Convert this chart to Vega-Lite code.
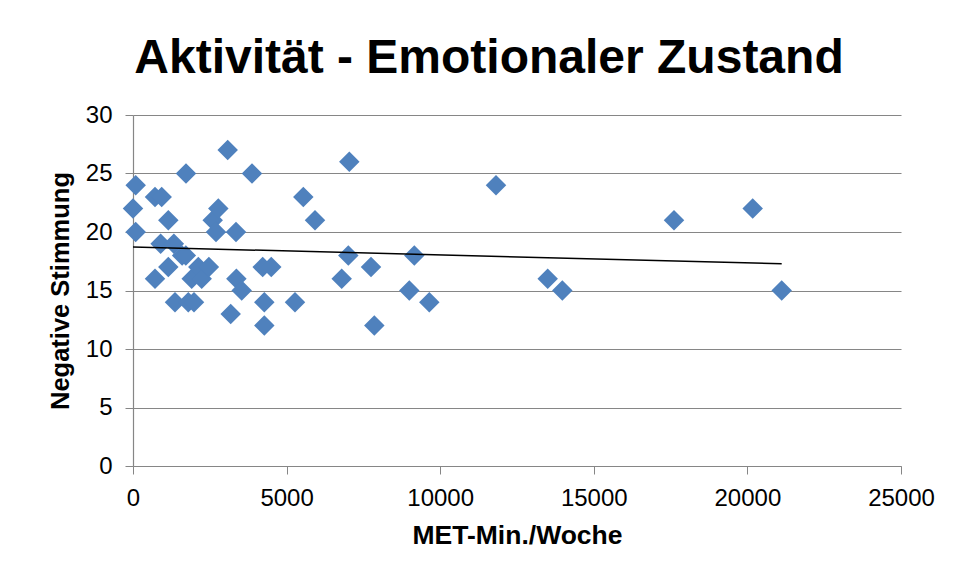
{
  "$schema": "https://vega.github.io/schema/vega-lite/v6.json",
  "width": 768,
  "height": 351,
  "autosize": {"type": "none"},
  "padding": {"left": 133, "top": 115, "right": 55, "bottom": 112},
  "background": "white",
  "title": {
    "text": "Aktivität - Emotionaler Zustand",
    "font": "Liberation Sans",
    "fontSize": 48,
    "fontWeight": "bold",
    "color": "black",
    "anchor": "middle",
    "frame": "group",
    "baseline": "alphabetic",
    "offset": 30,
    "dx": -28,
    "dy": 48
  },
  "data": {
    "values": [
      {"met": 0, "neg": 22}, {"met": 88, "neg": 24}, {"met": 88, "neg": 20},
      {"met": 716, "neg": 23}, {"met": 934, "neg": 23}, {"met": 900, "neg": 19},
      {"met": 716, "neg": 16}, {"met": 1150, "neg": 21}, {"met": 1150, "neg": 17},
      {"met": 1330, "neg": 19}, {"met": 1600, "neg": 18}, {"met": 1725, "neg": 25},
      {"met": 1720, "neg": 18}, {"met": 1367, "neg": 14}, {"met": 1800, "neg": 14},
      {"met": 1986, "neg": 14}, {"met": 1910, "neg": 16}, {"met": 2126, "neg": 17},
      {"met": 2236, "neg": 16}, {"met": 2470, "neg": 17}, {"met": 2594, "neg": 21},
      {"met": 2702, "neg": 20}, {"met": 2778, "neg": 22}, {"met": 3083, "neg": 27},
      {"met": 3180, "neg": 13}, {"met": 3353, "neg": 20}, {"met": 3365, "neg": 16},
      {"met": 3538, "neg": 15}, {"met": 3874, "neg": 25}, {"met": 4222, "neg": 17},
      {"met": 4500, "neg": 17}, {"met": 4274, "neg": 14}, {"met": 4274, "neg": 12},
      {"met": 5273, "neg": 14}, {"met": 5544, "neg": 23}, {"met": 5925, "neg": 21},
      {"met": 6793, "neg": 16}, {"met": 7009, "neg": 18}, {"met": 7041, "neg": 26},
      {"met": 7747, "neg": 17}, {"met": 7855, "neg": 12}, {"met": 8994, "neg": 15},
      {"met": 9158, "neg": 18}, {"met": 9645, "neg": 14}, {"met": 11816, "neg": 24},
      {"met": 13499, "neg": 16}, {"met": 13975, "neg": 15}, {"met": 17611, "neg": 21},
      {"met": 20172, "neg": 22}, {"met": 21116, "neg": 15}
    ]
  },
  "layer": [
    {
      "mark": {"type": "point", "shape": "diamond", "filled": true, "size": 420, "color": "#4F81BD", "opacity": 1},
      "encoding": {
        "x": {
          "field": "met", "type": "quantitative",
          "scale": {"domain": [0, 25000], "nice": false, "zero": true},
          "axis": {
            "title": "MET-Min./Woche",
            "values": [0, 5000, 10000, 15000, 20000, 25000],
            "format": "d",
            "grid": false,
            "domainColor": "#868686",
            "domainWidth": 1.2,
            "tickColor": "#868686",
            "tickSize": 8,
            "labelFont": "Liberation Sans",
            "labelFontSize": 24,
            "labelColor": "black",
            "labelPadding": 12,
            "labelFlush": false,
            "labelOverlap": false,
            "titleFont": "Liberation Sans",
            "titleFontSize": 26.5,
            "titleFontWeight": "bold",
            "titleColor": "black",
            "titlePadding": 12
          }
        },
        "y": {
          "field": "neg", "type": "quantitative",
          "scale": {"domain": [0, 30], "nice": false},
          "axis": {
            "title": "Negative Stimmung",
            "values": [0, 5, 10, 15, 20, 25, 30],
            "grid": true,
            "gridColor": "#868686",
            "gridWidth": 1.2,
            "domainColor": "#868686",
            "domainWidth": 1.2,
            "tickColor": "#868686",
            "tickSize": 8,
            "labelFont": "Liberation Sans",
            "labelFontSize": 24,
            "labelColor": "black",
            "labelPadding": 13,
            "labelFlush": false,
            "labelOverlap": false,
            "titleFont": "Liberation Sans",
            "titleFontSize": 25.5,
            "titleFontWeight": "bold",
            "titleColor": "black",
            "titlePadding": 12
          }
        }
      }
    },
    {
      "transform": [{"regression": "neg", "on": "met", "method": "linear"}],
      "mark": {"type": "line", "color": "black", "strokeWidth": 1.5},
      "encoding": {
        "x": {"field": "met", "type": "quantitative"},
        "y": {"field": "neg", "type": "quantitative"}
      }
    }
  ],
  "config": {
    "view": {"stroke": null}
  }
}
